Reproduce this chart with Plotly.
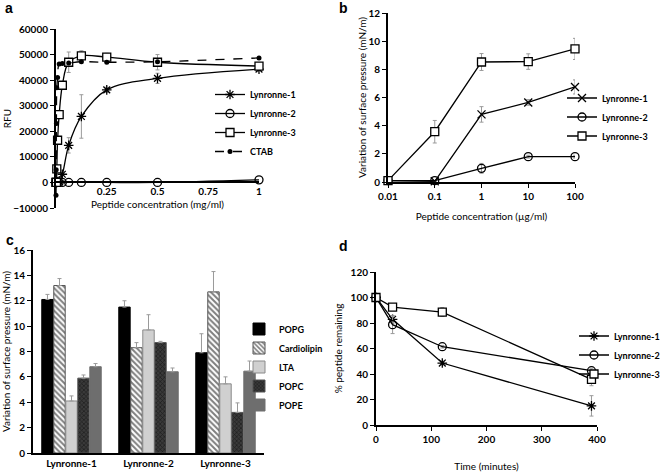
import plotly.graph_objects as go

# ---- panel a: RFU vs peptide concentration (mg/ml)
a_conc = [0, 0.00098, 0.00195, 0.0039, 0.0078, 0.0156, 0.03125, 0.0625, 0.125, 0.25, 0.5, 1]
a_lyn1 = [0, 0, 0, 0, 200, 500, 3200, 14500, 25800, 36200, 40700, 44300]
a_lyn1_err = [0, 0, 0, 0, 0, 0, 500, 3000, 8500, 1000, 2000, 1000]
a_lyn2 = [0, 0, 0, 0, 0, 0, 0, 0, 0, 0, 0, 1000]
a_lyn3 = [0, 0, 0, 5300, 16500, 26500, 38000, 47000, 49500, 49000, 47000, 45500]
a_lyn3_err = [0, 0, 0, 0, 0, 0, 0, 4000, 2000, 1500, 3000, 500]
a_ctab = [-5000, 5000, 23000, 37000, 41000, 46300, 46500, 46700, 47200, 47000, 47200, 48700]

# ---- panel b: surface pressure vs concentration (ug/ml)
b_conc = [0.01, 0.1, 1, 10, 100]
b_lyn1 = [0.1, 0.05, 4.8, 5.65, 6.75]
b_lyn1_err = [0, 0, 0.55, 0.2, 0.5]
b_lyn2 = [0.1, 0.1, 0.97, 1.8, 1.8]
b_lyn2_err = [0, 0, 0.35, 0.1, 0.1]
b_lyn3 = [0.1, 3.57, 8.52, 8.55, 9.45]
b_lyn3_err = [0, 0.8, 0.6, 0.55, 0.75]

# ---- panel c: surface pressure per lipid
c_peptides = ["Lynronne-1", "Lynronne-2", "Lynronne-3"]
c_lipids = ["POPG", "Cardiolipin", "LTA", "POPC", "POPE"]
c_values = {
    "POPG": [12.1, 11.5, 7.9],
    "Cardiolipin": [13.2, 8.3, 12.7],
    "LTA": [4.1, 9.7, 5.45],
    "POPC": [5.9, 8.7, 3.2],
    "POPE": [6.8, 6.4, 6.45],
}
c_errors = {
    "POPG": [0.4, 0.5, 1.5],
    "Cardiolipin": [0.55, 0.4, 1.6],
    "LTA": [0.4, 1.2, 0.55],
    "POPC": [0.25, 0.1, 0.75],
    "POPE": [0.25, 0.3, 0.8],
}

# ---- panel d: % peptide remaining vs time
d_time = [0, 30, 120, 390]
d_lyn1 = [100, 82.9, 48.6, 15]
d_lyn1_err = [0, 3, 1.5, 8]
d_lyn2 = [100, 78.7, 61.4, 42.6]
d_lyn2_err = [0, 7, 1, 1.5]
d_lyn3 = [100, 92.5, 88.6, 35.8]
d_lyn3_err = [0, 1.5, 3.5, 5]

W, H = 668, 472
FONT = "Lato"
ERR = dict(type="data", color="#9a9a9a", thickness=1, width=2)


def xd(left, right):
    return [left / W, right / W]


def yd(top, bottom):
    return [1 - bottom / H, 1 - top / H]


def err(values):
    return dict(ERR, array=values)


def line_trace(x, y, name, symbol, xa, ya, legend, errs=None, size=8, **kw):
    # open symbols are stroked with marker.color, the square gets a white fill
    fill = "white" if symbol == "square" else "black"
    return go.Scatter(
        x=x, y=y, name=name, mode="lines+markers",
        xaxis=xa, yaxis=ya, legend=legend,
        line=dict(color="black", width=1.3),
        marker=dict(symbol=symbol, size=size, color=fill,
                    line=dict(color="black", width=1.3)),
        error_y=err(errs) if errs else None,
        cliponaxis=False,
        **kw,
    )


fig = go.Figure()

# panel a
fig.add_trace(line_trace(a_conc, a_lyn1, "Lynronne-1", "asterisk-open", "x", "y", "legend",
                         a_lyn1_err, line_shape="spline"))
fig.add_trace(line_trace(a_conc, a_lyn2, "Lynronne-2", "circle-open", "x", "y", "legend",
                         line_shape="spline"))
fig.add_trace(line_trace(a_conc, a_lyn3, "Lynronne-3", "square", "x", "y", "legend",
                         a_lyn3_err, line_shape="spline"))
fig.add_trace(go.Scatter(
    x=a_conc, y=a_ctab, name="CTAB", mode="lines+markers", xaxis="x", yaxis="y",
    legend="legend", line=dict(color="black", width=1.3, dash="dash", shape="spline"),
    marker=dict(symbol="circle", size=5, color="black"), cliponaxis=False))

# panel b
fig.add_trace(line_trace(b_conc, b_lyn1, "Lynronne-1", "x-thin-open", "x2", "y2", "legend2", b_lyn1_err))
fig.add_trace(line_trace(b_conc, b_lyn2, "Lynronne-2", "circle-open", "x2", "y2", "legend2", b_lyn2_err))
fig.add_trace(line_trace(b_conc, b_lyn3, "Lynronne-3", "square", "x2", "y2", "legend2", b_lyn3_err))

# panel c
bar_style = {
    "POPG": dict(color="black", line=dict(color="black", width=1)),
    "Cardiolipin": dict(color="white", line=dict(color="#555", width=1),
                        pattern=dict(shape="\\", fgcolor="black", bgcolor="white", size=4, solidity=0.5)),
    "LTA": dict(color="#d0d0d0", line=dict(color="#8a8a8a", width=1)),
    "POPC": dict(color="#3a3a3a", line=dict(color="#555", width=1),
                 pattern=dict(shape="x", fgcolor="black", bgcolor="#3a3a3a", size=3, solidity=0.4)),
    "POPE": dict(color="#6e6e6e", line=dict(color="#6e6e6e", width=1)),
}
for lipid in c_lipids:
    fig.add_trace(go.Bar(
        x=c_peptides, y=c_values[lipid], name=lipid, xaxis="x3", yaxis="y3", legend="legend3",
        marker=bar_style[lipid],
        error_y=dict(ERR, symmetric=False, array=c_errors[lipid], arrayminus=[0, 0, 0]),
    ))

# panel d
fig.add_trace(line_trace(d_time, d_lyn1, "Lynronne-1", "asterisk-open", "x4", "y4", "legend4", d_lyn1_err))
fig.add_trace(line_trace(d_time, d_lyn2, "Lynronne-2", "circle-open", "x4", "y4", "legend4", d_lyn2_err))
fig.add_trace(line_trace(d_time, d_lyn3, "Lynronne-3", "square", "x4", "y4", "legend4", d_lyn3_err))

tickfont = dict(family=FONT, size=10, color="black", weight="bold")
titlefont = dict(family=FONT, size=10, color="black")
axis = dict(showline=True, linecolor="black", linewidth=2, showgrid=False, zeroline=False,
            ticks="outside", ticklen=4, tickwidth=1, tickcolor="black", tickfont=tickfont,
            title_font=titlefont, automargin=False)

fig.update_layout(
    width=W, height=H, margin=dict(l=0, r=0, t=0, b=0),
    plot_bgcolor="white", paper_bgcolor="white", showlegend=True,
    barmode="group", bargap=0.22, bargroupgap=0.05,
    font=dict(family=FONT, color="black"),
    # a
    xaxis=dict(axis, domain=xd(56, 259), range=[0, 1], anchor="free", position=1 - 182 / H,
               tickvals=[0.25, 0.5, 0.75, 1], ticktext=["0.25", "0.5", "0.75", "1"], ticks="",
               title=dict(text="Peptide concentration (mg/ml)", standoff=4)),
    yaxis=dict(axis, domain=yd(29, 208), range=[-10000, 60000], dtick=10000, anchor="x",
               tickformat="d", title=dict(text="RFU", standoff=0)),
    # b
    xaxis2=dict(axis, domain=xd(388, 575), type="log", range=[-2, 2], anchor="y2",
                tickvals=b_conc, ticktext=["0.01", "0.1", "1", "10", "100"],
                title=dict(text="Peptide concentration (µg/ml)", standoff=12)),
    yaxis2=dict(axis, domain=yd(13, 182), range=[0, 12], dtick=2, anchor="x2",
                title=dict(text="Variation of surface pressure (mN/m)", standoff=0)),
    # c
    xaxis3=dict(axis, domain=xd(33, 264), anchor="y3", ticks=""),
    yaxis3=dict(axis, domain=yd(250, 453), range=[0, 16], dtick=2, anchor="x3",
                title=dict(text="Variation of surface pressure (mN/m)", standoff=6)),
    # d
    xaxis4=dict(axis, domain=xd(376, 597), range=[0, 400], dtick=100, anchor="y4",
                title=dict(text="Time (minutes)", standoff=19)),
    yaxis4=dict(axis, domain=yd(272, 425), range=[0, 120], dtick=20, anchor="x4",
                title=dict(text="% peptide remaining", standoff=6)),
)

legend_base = dict(font=dict(family=FONT, size=9, color="black", weight="bold"),
                   bgcolor="rgba(0,0,0,0)", xanchor="left", yanchor="middle",
                   itemwidth=30, tracegroupgap=0)
fig.update_layout(
    legend=dict(legend_base, x=210 / W, y=1 - 123 / H),
    legend2=dict(legend_base, x=562 / W, y=1 - 117 / H),
    legend3=dict(legend_base, x=239 / W, y=1 - 367 / H),
    legend4=dict(legend_base, x=574 / W, y=1 - 355 / H),
)

for letter, px, py in [("a", 3, 8), ("b", 337, 8), ("c", 4, 240), ("d", 337, 246)]:
    fig.add_annotation(text=letter, x=px / W, y=1 - py / H, xref="paper", yref="paper",
                       xanchor="left", yanchor="middle", showarrow=False,
                       font=dict(family="Liberation Sans", size=14, color="black", weight="bold"))

# the page body has a default 8px margin, drop it so the figure sits at the window corner
fig.write_html("out.html", config={"displayModeBar": False},
               post_script="document.body.style.margin = '0';")
